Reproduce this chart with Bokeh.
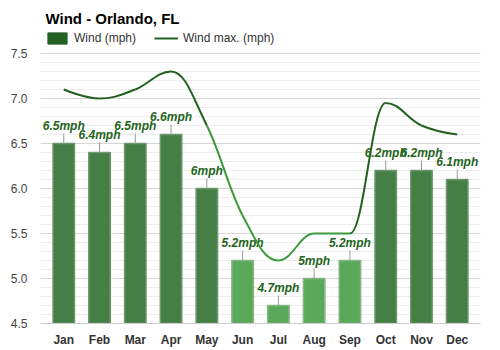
from math import pi
from bokeh.plotting import figure
from bokeh.models import (FactorRange, Range1d, Legend, LegendItem, Label,
                          FixedTicker, NumeralTickFormatter, ColumnDataSource)
from bokeh.embed import file_html
from bokeh.resources import INLINE
from bokeh.core.properties import value

months = ["Jan", "Feb", "Mar", "Apr", "May", "Jun", "Jul", "Aug", "Sep", "Oct", "Nov", "Dec"]
wind = [6.5, 6.4, 6.5, 6.6, 6.0, 5.2, 4.7, 5.0, 5.2, 6.2, 6.2, 6.1]
wind_max = [7.1, 7.0, 7.1, 7.3, 6.7, 5.7, 5.2, 5.5, 5.5, 6.95, 6.7, 6.6]
y_ticks = [4.5, 5.0, 5.5, 6.0, 6.5, 7.0, 7.5]
y_minor = [4.6, 4.7, 4.8, 4.9, 5.1, 5.2, 5.3, 5.4, 5.6, 5.7, 5.8, 5.9,
           6.1, 6.2, 6.3, 6.4, 6.6, 6.7, 6.8, 6.9, 7.1, 7.2, 7.3, 7.4]
title_text = "Wind - Orlando, FL"
series_names = ["Wind (mph)", "Wind max. (mph)"]

FONT = "Liberation Sans"
DARK_FILL, DARK_LINE = "#467f46", "#6d986d"
LIGHT_FILL, LIGHT_LINE = "#5aa95a", "#86b686"
LINE_DARK, LINE_LIGHT = "#23611f", "#3a9a3a"
LABEL_COLOR = "#1f6420"

bar_fill = [LIGHT_FILL if v < 5.5 else DARK_FILL for v in wind]
bar_line = [LIGHT_LINE if v < 5.5 else DARK_LINE for v in wind]
labels = [f"{v:g}mph" for v in wind]

src = ColumnDataSource(dict(month=months, wind=wind, fill=bar_fill, line=bar_line, label=labels))

Y_MIN, Y_MAX = 4.5, 7.5
TOP_SPACE = 53 / 90.0   # header area (title + legend) kept inside the frame

p = figure(width=500, height=350, output_backend="svg", toolbar_location=None,
           x_range=FactorRange(*months, range_padding=0.15, range_padding_units="absolute"),
           y_range=Range1d(Y_MIN, Y_MAX + TOP_SPACE),
           min_border_left=40, min_border_right=20, min_border_top=0, min_border_bottom=27)
p.outline_line_color = None
p.background_fill_color = "white"
p.border_fill_color = "white"

# grid / axes
p.yaxis.ticker = FixedTicker(ticks=y_ticks, minor_ticks=y_minor)
p.yaxis.formatter = NumeralTickFormatter(format="0.0")
p.ygrid.grid_line_color = "#d6d6d6"
p.ygrid.minor_grid_line_color = "#ededed"
p.xgrid.grid_line_color = None
for ax in (p.xaxis[0], p.yaxis[0]):
    ax.major_tick_line_color = None
    ax.minor_tick_line_color = None
    ax.major_label_text_font = FONT
    ax.major_label_text_font_size = "12px"
p.yaxis.axis_line_color = None
p.yaxis.major_label_standoff = 7
p.yaxis.major_label_text_color = "#444444"
p.xaxis.axis_line_color = "#cccccc"
p.xaxis.major_label_standoff = 3
p.xaxis.major_label_text_font_style = "bold"
p.xaxis.major_label_text_color = "#333333"

# bars
p.vbar(x="month", top="wind", bottom=Y_MIN, width=0.6, source=src,
       fill_color="fill", line_color="line", line_width=1.5)
# leader lines and labels
p.ray(x="month", y="wind", length=10, length_units="screen", angle=pi / 2,
      line_color="#999999", line_width=1, source=src)
p.text(x="month", y="wind", text="label", source=src, y_offset=-11,
       text_align="center", text_baseline="bottom", text_font=value(FONT),
       text_font_style="bold italic", text_font_size="12px", text_color=LABEL_COLOR)

# spline (Highcharts-like) for wind max
xs = [i + 0.5 for i in range(len(months))]
ys = wind_max
n = len(xs)
left_c, right_c = [], []
sm = 1.5
den = sm + 1
for i in range(n):
    x, y = xs[i], ys[i]
    if i == 0 or i == n - 1:
        left_c.append((x, y))
        right_c.append((x, y))
        continue
    lx, ly = xs[i - 1], ys[i - 1]
    nx, ny = xs[i + 1], ys[i + 1]
    lcx = (sm * x + lx) / den
    lcy = (sm * y + ly) / den
    rcx = (sm * x + nx) / den
    rcy = (sm * y + ny) / den
    corr = (rcy - lcy) * (rcx - x) / (rcx - lcx) + y - rcy
    lcy += corr
    rcy += corr
    if lcy > ly and lcy > y:
        lcy = max(ly, y); rcy = 2 * y - lcy
    elif lcy < ly and lcy < y:
        lcy = min(ly, y); rcy = 2 * y - lcy
    if rcy > ny and rcy > y:
        rcy = max(ny, y); lcy = 2 * y - rcy
    elif rcy < ny and rcy < y:
        rcy = min(ny, y); lcy = 2 * y - rcy
    left_c.append((lcx, lcy))
    right_c.append((rcx, rcy))

seg_colors = [LINE_LIGHT if 4 <= i <= 7 else LINE_DARK for i in range(n - 1)]
bz = ColumnDataSource(dict(
    x0=xs[:-1], y0=ys[:-1], x1=xs[1:], y1=ys[1:],
    cx0=[right_c[i][0] for i in range(n - 1)], cy0=[right_c[i][1] for i in range(n - 1)],
    cx1=[left_c[i + 1][0] for i in range(n - 1)], cy1=[left_c[i + 1][1] for i in range(n - 1)],
    color=seg_colors))
p.bezier(x0="x0", y0="y0", x1="x1", y1="y1", cx0="cx0", cy0="cy0", cx1="cx1", cy1="cy1",
         line_color="color", line_width=2, source=bz)

# legend: off-screen proxy renderers supply the swatch styles
r_bar = p.vbar(x=[months[0]], top=[Y_MIN - 1], bottom=Y_MIN - 2, width=0.6,
               fill_color="#236123", line_color="#236123")
r_line = p.line(x=[months[0], months[1]], y=[Y_MIN - 1, Y_MIN - 1],
                line_color=LINE_DARK, line_width=2)
legend = Legend(items=[LegendItem(label=series_names[0], renderers=[r_bar]),
                       LegendItem(label=series_names[1], renderers=[r_line])],
                orientation="horizontal", location=(5, 278), padding=0, margin=0,
                spacing=18, label_standoff=5, glyph_width=24, glyph_height=14,
                label_height=14, label_text_font=FONT, label_text_font_size="12px",
                label_text_color="#333333", border_line_alpha=0, background_fill_alpha=0)
p.add_layout(legend)

p.add_layout(Label(x=5, y=305, x_units="screen", y_units="screen", text=title_text,
                   text_font=FONT, text_font_size="15px", text_font_style="bold",
                   text_baseline="middle", text_color="black"))

open("out.html", "w").write(file_html(p, INLINE))
